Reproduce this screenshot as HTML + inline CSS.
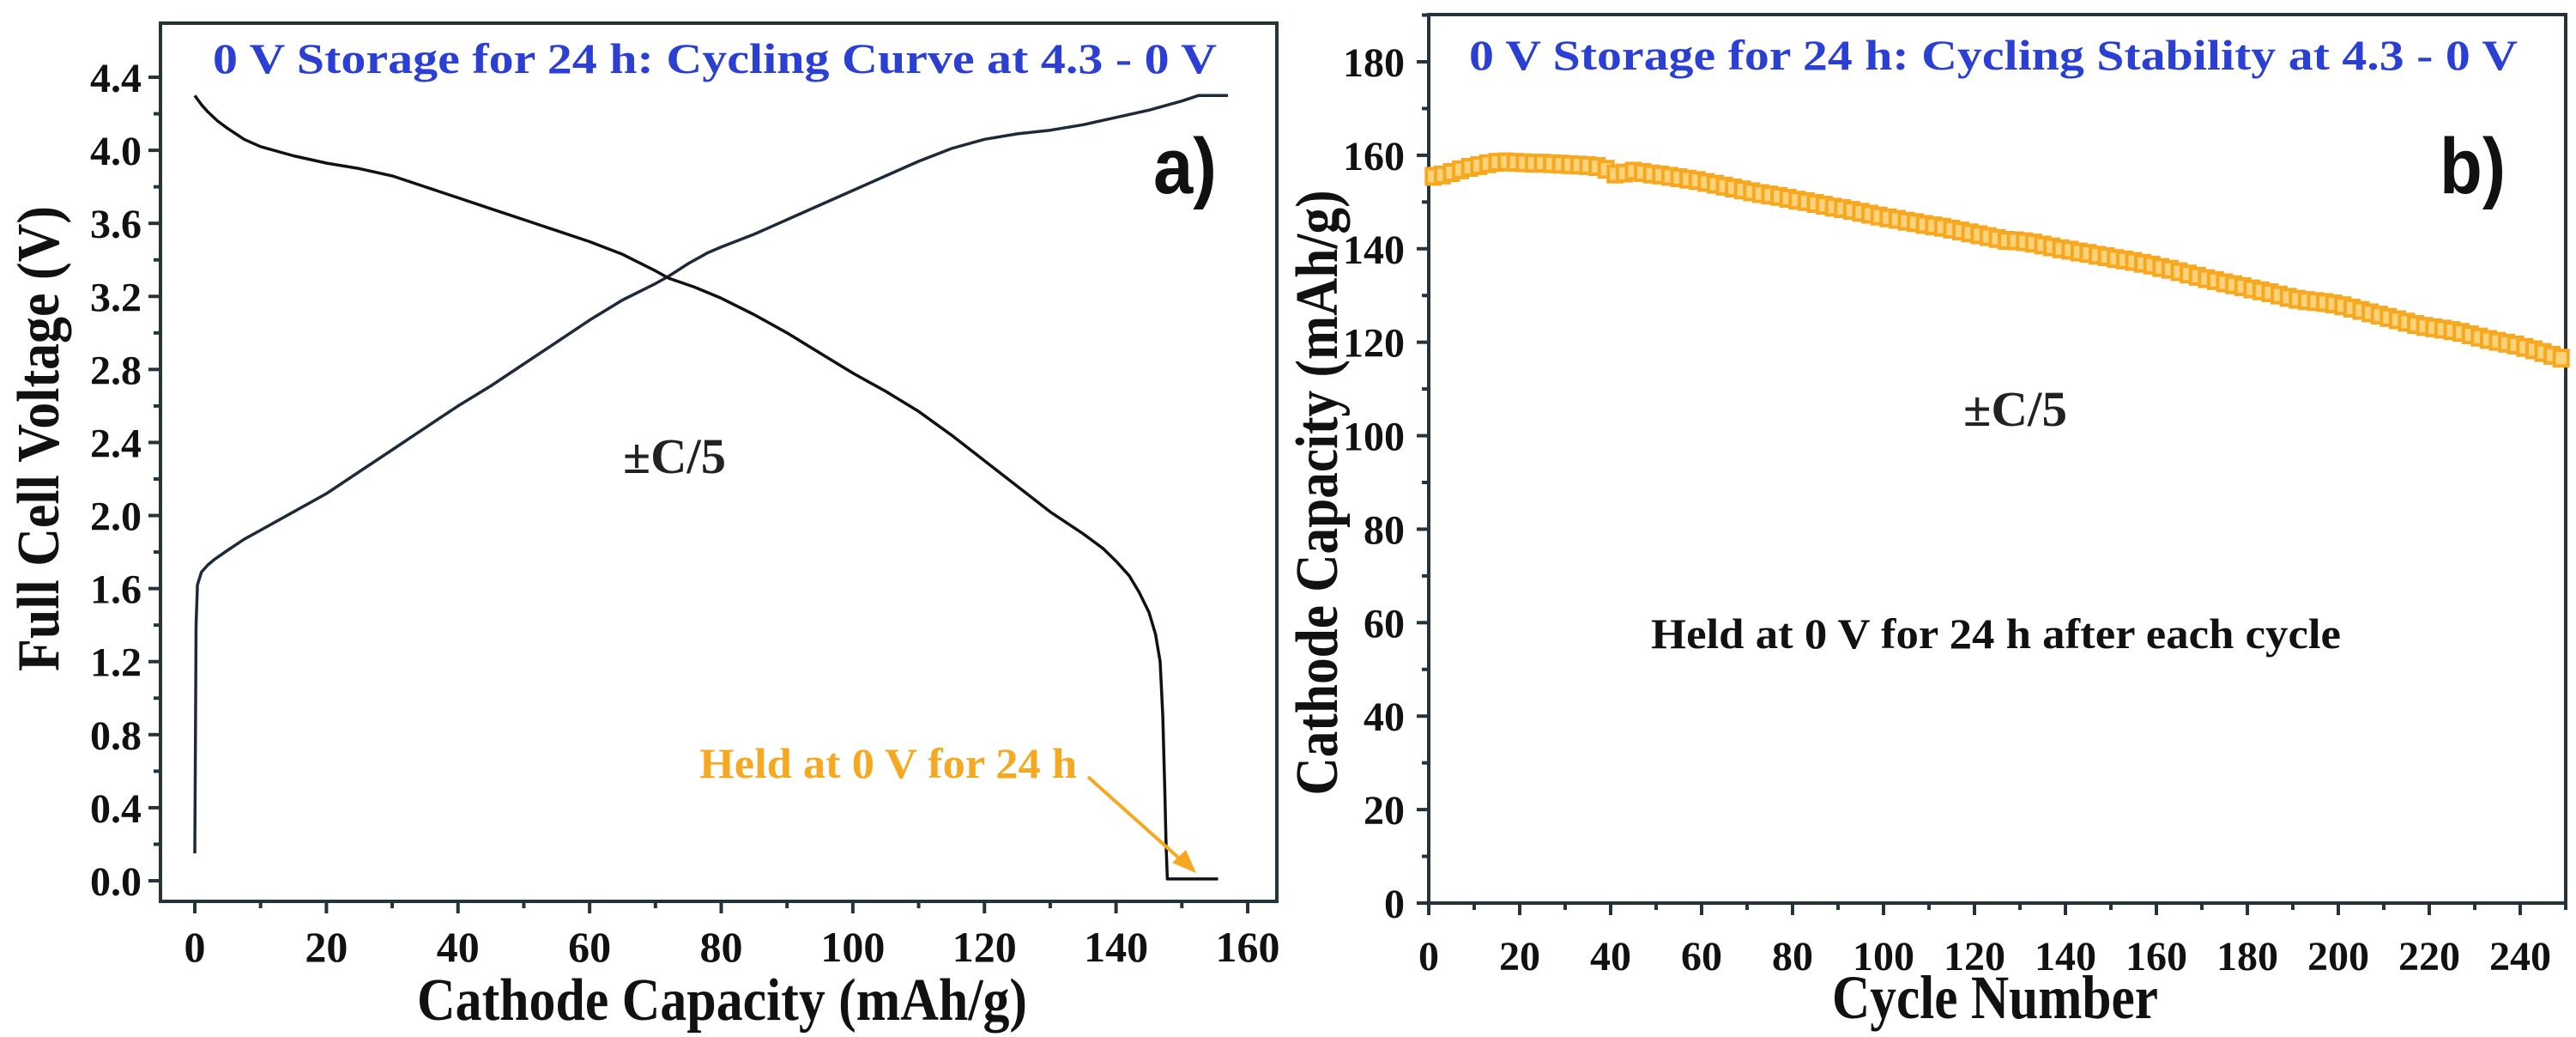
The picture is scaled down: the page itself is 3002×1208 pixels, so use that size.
<!DOCTYPE html>
<html><head><meta charset="utf-8"><style>
html,body{margin:0;padding:0;background:#fff;}
svg{display:block;}
text{font-family:"Liberation Serif",serif;font-weight:bold;}
</style></head><body>
<svg id="fig" width="3002" height="1208" viewBox="0 0 3002 1208" xmlns="http://www.w3.org/2000/svg">
<g id="pa"></g>
<g id="pb"></g>
</svg>
<script>
// ---- Panel a data ----
const chargeCap = [0,0.1,0.2,0.4,1,2,3,5,7.5,10,15,20,25,30,35,40,45,50,55,60,65,70,72,75,78,80,85,90,95,100,105,110,115,120,125,130,135,140,145,150,152.5,157];
const chargeV   = [0.15,0.8,1.4,1.62,1.69,1.73,1.76,1.81,1.87,1.92,2.02,2.12,2.24,2.36,2.48,2.6,2.71,2.83,2.95,3.07,3.18,3.27,3.31,3.38,3.44,3.47,3.54,3.62,3.7,3.78,3.86,3.94,4.01,4.06,4.09,4.11,4.14,4.18,4.22,4.27,4.3,4.3];
const dischCap  = [0,1,2,3.5,5,7.5,10,15,20,25,30,35,40,45,50,55,60,65,70,72,76,80,85,90,95,100,105,110,115,120,125,130,135,138,140,142,143.5,145,146,146.7,147.1,147.4,147.6,147.8,155.5];
const dischV    = [4.3,4.25,4.21,4.16,4.12,4.06,4.02,3.97,3.93,3.9,3.86,3.8,3.74,3.68,3.62,3.56,3.5,3.43,3.34,3.3,3.25,3.19,3.1,3.0,2.89,2.78,2.68,2.57,2.44,2.3,2.16,2.02,1.9,1.82,1.75,1.67,1.58,1.47,1.35,1.2,0.9,0.5,0.2,0.01,0.01];
const aXTicks = [0,20,40,60,80,100,120,140,160];
const aYTicks = [0.0,0.4,0.8,1.2,1.6,2.0,2.4,2.8,3.2,3.6,4.0,4.4];
// ---- Panel b data ----
const bCycleStart = 1, bCycleStep = 2;
const bCapacity = [155.5,155.8,156.3,156.9,157.4,157.8,158.2,158.5,158.6,158.5,158.4,158.3,158.3,158.2,158.1,158.0,157.9,157.8,157.6,157.0,156.0,156.2,156.6,156.3,156.0,155.8,155.5,155.2,154.9,154.6,154.2,153.8,153.4,153.0,152.6,152.2,151.8,151.5,151.2,150.8,150.4,150.1,149.7,149.3,148.9,148.6,148.2,147.8,147.4,147.0,146.6,146.3,145.9,145.6,145.2,144.9,144.6,144.2,143.8,143.4,143.0,142.6,142.2,141.8,141.7,141.5,141.2,140.8,140.4,140.0,139.7,139.3,139.0,138.6,138.3,137.9,137.6,137.3,136.9,136.5,136.0,135.6,135.1,134.6,134.1,133.6,133.2,132.7,132.3,131.9,131.4,131.0,130.6,130.1,129.6,129.2,128.9,128.7,128.5,128.2,127.8,127.3,126.8,126.3,125.8,125.3,124.8,124.3,123.8,123.4,123.1,122.8,122.5,122.1,121.6,121.1,120.6,120.2,119.8,119.4,118.9,118.4,117.8,117.2,116.6];
const bXTicks = [0,20,40,60,80,100,120,140,160,180,200,220,240];
const bYTicks = [0,20,40,60,80,100,120,140,160,180];

const NS="http://www.w3.org/2000/svg";
function mk(parent,tag,attrs,txt){const e=document.createElementNS(NS,tag);for(const k in attrs)e.setAttribute(k,attrs[k]);if(txt!==undefined)e.textContent=txt;parent.appendChild(e);return e;}
const AX="#25343a";

// ===== Panel a =====
const pa=document.getElementById('pa');
const ax=v=>227+(v/160)*(1454-227);
const ay=v=>1026-(v/4.4)*(1026-90);
let fr=mk(pa,'rect',{x:187,y:27,width:1301,height:1023,fill:'none',stroke:AX,'stroke-width':4});

for(let v=0;v<=160;v+=10){const maj=v%20===0;let t=mk(pa,'line',{x1:ax(v),x2:ax(v),y1:1050,y2:1050+(maj?14:8),stroke:AX,'stroke-width':4});}
for(let i=0;i<=22;i++){const v=i*0.2;const maj=i%2===0;let t=mk(pa,'line',{x1:187-(maj?14:8),x2:187,y1:ay(v),y2:ay(v),stroke:AX,'stroke-width':4});}
aXTicks.forEach(v=>{let t=mk(pa,'text',{x:ax(v),y:1120,'font-size':50,'text-anchor':'middle',fill:'#111'},String(v));});
aYTicks.forEach(v=>{let t=mk(pa,'text',{x:165,y:ay(v)+17,'font-size':48,'text-anchor':'end',fill:'#111'},v.toFixed(1));});
let xt=mk(pa,'text',{x:486,y:1188,'font-size':70,textLength:711,lengthAdjust:'spacingAndGlyphs',fill:'#111'},'Cathode Capacity (mAh/g)');

let yt=mk(pa,'text',{x:0,y:0,'font-size':70,textLength:542,lengthAdjust:'spacingAndGlyphs','text-anchor':'middle',transform:'translate(68,511) rotate(-90)',fill:'#111'},'Full Cell Voltage (V)');

let tt=mk(pa,'text',{x:248,y:85,'font-size':50,textLength:1170,lengthAdjust:'spacingAndGlyphs',fill:'#2b3fd3'},'0 V Storage for 24 h: Cycling Curve at 4.3 - 0 V');

let la=mk(pa,'text',{x:1344,y:225,'font-size':92,textLength:74,lengthAdjust:'spacingAndGlyphs',fill:'#111',style:'font-family:"Liberation Sans",sans-serif'},'a)');

let ca=mk(pa,'text',{x:726,y:551,'font-size':58,textLength:120,lengthAdjust:'spacingAndGlyphs',fill:'#222'},'±C/5');

let ch=mk(pa,'path',{d:chargeCap.map((c,i)=>(i?'L':'M')+ax(c).toFixed(1)+','+ay(chargeV[i]).toFixed(1)).join(''),fill:'none',stroke:'#1e2a3a','stroke-width':3.5,'stroke-linejoin':'round'});

let dc=mk(pa,'path',{d:dischCap.map((c,i)=>(i?'L':'M')+ax(c).toFixed(1)+','+ay(dischV[i]).toFixed(1)).join(''),fill:'none',stroke:'#111','stroke-width':3.5,'stroke-linejoin':'round'});

let ht=mk(pa,'text',{x:815,y:906,'font-size':50,textLength:440,lengthAdjust:'spacingAndGlyphs',fill:'#f6a821'},'Held at 0 V for 24 h');

let ar=mk(pa,'line',{x1:1268,y1:905,x2:1380,y2:1005,stroke:'#f6a821','stroke-width':4});

let ah=mk(pa,'polygon',{points:'1394,1017 1366,1005 1382,990',fill:'#f6a821'});


// ===== Panel b =====
const pb=document.getElementById('pb');
const bx=v=>1665+(v/240)*(2937-1665);
const by=v=>1052-(v/180)*(1052-72);
let fb=mk(pb,'rect',{x:1665,y:17,width:1325,height:1035,fill:'none',stroke:AX,'stroke-width':4});

for(let v=0;v<=250;v+=10){const maj=v%20===0;let t=mk(pb,'line',{x1:bx(v),x2:bx(v),y1:1052,y2:1052+(maj?14:8),stroke:AX,'stroke-width':4});}
for(let v=0;v<=190;v+=10){const maj=v%20===0;let t=mk(pb,'line',{x1:1665-(maj?14:8),x2:1665,y1:by(v),y2:by(v),stroke:AX,'stroke-width':4});}
bXTicks.forEach(v=>{let t=mk(pb,'text',{x:bx(v),y:1130,'font-size':48,'text-anchor':'middle',fill:'#111'},String(v));});
bYTicks.forEach(v=>{let t=mk(pb,'text',{x:1637,y:by(v)+17,'font-size':48,'text-anchor':'end',fill:'#111'},String(v));});
let xtb=mk(pb,'text',{x:2135,y:1186,'font-size':72,textLength:380,lengthAdjust:'spacingAndGlyphs',fill:'#111'},'Cycle Number');

let ytb=mk(pb,'text',{x:0,y:0,'font-size':70,textLength:705,lengthAdjust:'spacingAndGlyphs','text-anchor':'middle',transform:'translate(1558,574) rotate(-90)',fill:'#111'},'Cathode Capacity (mAh/g)');

let ttb=mk(pb,'text',{x:1712,y:81,'font-size':50,textLength:1222,lengthAdjust:'spacingAndGlyphs',fill:'#2b3fd3'},'0 V Storage for 24 h: Cycling Stability at 4.3 - 0 V');

let lb=mk(pb,'text',{x:2843,y:225,'font-size':92,textLength:77,lengthAdjust:'spacingAndGlyphs',fill:'#111',style:'font-family:"Liberation Sans",sans-serif'},'b)');

let cb=mk(pb,'text',{x:2288,y:496,'font-size':58,textLength:121,lengthAdjust:'spacingAndGlyphs',fill:'#222'},'±C/5');

let hb=mk(pb,'text',{x:1924,y:755,'font-size':50,textLength:804,lengthAdjust:'spacingAndGlyphs',fill:'#111'},'Held at 0 V for 24 h after each cycle');

const sg=mk(pb,'g',{});

bCapacity.forEach((v,i)=>{const c=bCycleStart+i*bCycleStep;
  let m=mk(sg,'rect',{x:(bx(c)-8).toFixed(1),y:(by(v)-9).toFixed(1),width:16,height:18,fill:'#fcd27a',stroke:'#f6a821','stroke-width':4});
  });
</script>
</body></html>
